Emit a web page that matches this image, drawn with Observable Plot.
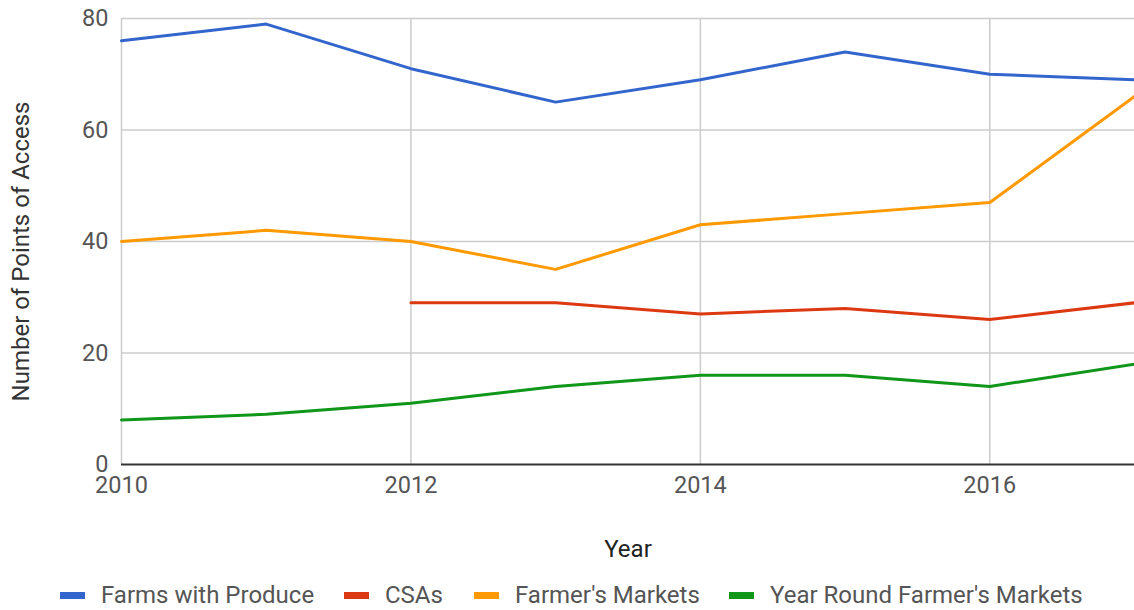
<!DOCTYPE html>
<html>
<head>
<meta charset="utf-8">
<script src="https://cdn.jsdelivr.net/npm/d3@7"></script>
<script src="https://cdn.jsdelivr.net/npm/@observablehq/plot@0.6"></script>
<style>
  html, body { margin: 0; padding: 0; background: #fff; }
  #wrap { position: relative; width: 1134px; height: 610px; overflow: hidden; font-family: Roboto, sans-serif; }
  #legend { position: absolute; left: 60px; top: 581px; display: flex; align-items: center; font-size: 24px; line-height: 28px; color: #555; white-space: nowrap; }
  .item { display: flex; align-items: center; margin-right: 0; }
  .sw { width: 25px; height: 7px; margin-right: 16px; }
</style>
</head>
<body>
<div id="wrap"><div id="chart"></div><div id="legend"></div></div>
<script>
const years = [2010, 2011, 2012, 2013, 2014, 2015, 2016, 2017];
const farmsWithProduce = [76, 79, 71, 65, 69, 74, 70, 69];
const csas = [null, null, 29, 29, 27, 28, 26, 29];
const farmersMarkets = [40, 42, 40, 35, 43, 45, 47, 66];
const yearRoundMarkets = [8, 9, 11, 14, 16, 16, 14, 18];
const seriesNames = ["Farms with Produce", "CSAs", "Farmer's Markets", "Year Round Farmer's Markets"];
const seriesColors = ["#3366cc", "#dc3912", "#ff9900", "#109618"];
const xTicks = [2010, 2012, 2014, 2016];
const yTicks = [0, 20, 40, 60, 80];
const yTitle = ["Number of Points of Access"];
const legendLeft = [60, 344, 474, 729];

const seriesValues = [farmsWithProduce, csas, farmersMarkets, yearRoundMarkets];
const rows = [];
seriesNames.forEach((name, i) => {
  years.forEach((yr, j) => {
    const v = seriesValues[i][j];
    if (v != null) rows.push({ series: name, year: yr, value: v });
  });
});

const chart = Plot.plot({
  width: 1134,
  height: 575,
  marginLeft: 121,
  marginRight: 0,
  marginTop: 18,
  marginBottom: 111,
  style: { fontFamily: "Roboto, sans-serif", fontSize: "23.5px", background: "white", overflow: "visible" },
  x: { domain: [2010, 2017] },
  y: { domain: [0, 80] },
  color: { domain: seriesNames, range: seriesColors },
  marks: [
    Plot.gridX(xTicks, { stroke: "#cccccc", strokeOpacity: 1, strokeWidth: 1.5 }),
    Plot.gridY(yTicks.slice(1), { stroke: "#cccccc", strokeOpacity: 1, strokeWidth: 1.5 }),
    Plot.ruleY([0], { stroke: "#333", strokeWidth: 2 }),
    Plot.axisX({ ticks: xTicks, tickFormat: "d", tickSize: 0, tickPadding: 12, label: null, fill: "#555" }),
    Plot.axisX({ ticks: [], label: "Year", labelAnchor: "center", labelArrow: "none", labelOffset: 92, fill: "#222", fontSize: 24 }),
    Plot.axisY({ ticks: yTicks, tickSize: 0, tickPadding: 13, label: null, fill: "#555" }),
    Plot.text(yTitle, { text: d => d, frameAnchor: "left", rotate: -90, textAnchor: "middle", dx: -100, dy: 10, fill: "#333", fontSize: 24 }),
    Plot.line(rows, { x: "year", y: "value", z: "series", stroke: "series", strokeWidth: 3 })
  ]
});
document.getElementById("chart").appendChild(chart);

const legend = document.getElementById("legend");
seriesNames.forEach((name, i) => {
  const item = document.createElement("div");
  item.className = "item";
  item.style.position = "absolute";
  item.style.left = (legendLeft[i] - 60) + "px";
  item.style.top = "0px";
  const sw = document.createElement("span");
  sw.className = "sw";
  sw.style.background = seriesColors[i];
  const tx = document.createElement("span");
  tx.textContent = name;
  item.appendChild(sw);
  item.appendChild(tx);
  legend.appendChild(item);
});
</script>
</body>
</html>
